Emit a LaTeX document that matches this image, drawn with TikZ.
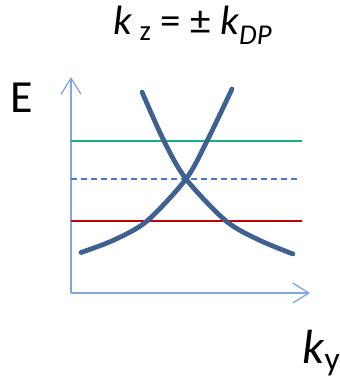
\documentclass[tikz,border=0pt]{standalone}
\usepackage{fontspec}
\setmainfont{Carlito}
\usetikzlibrary{arrows.meta}
\definecolor{axisblue}{HTML}{7FA7D8}
\definecolor{bandblue}{HTML}{3E618F}
\definecolor{levgreen}{HTML}{14B082}
\definecolor{levred}{HTML}{C00000}
\definecolor{dashblue}{HTML}{4A78C8}

\begin{document}
\begin{tikzpicture}[x=1pt, y=-1pt,
  axis/.style={draw=axisblue, line width=1.3pt,
               -{Straight Barb[length=16pt, width=20pt, line width=1.3pt]}},
  band/.style={draw=bandblue, line width=4.8pt, line cap=round},
  level/.style={line width=2.8pt},
  lbl/.style={inner sep=0pt, anchor=base west}
]
  \useasboundingbox (0,0) rectangle (339,379);

  % axes
  \coordinate (origin) at (71,293);
  \coordinate (ytip)   at (71,77);
  \coordinate (xtip)   at (310,293);
  \draw[axis] (origin) -- (ytip);
  \draw[axis] (origin) -- (xtip);

  % energy levels
  \coordinate (gleft)  at (71,141);  \coordinate (gright) at (302,141);
  \coordinate (dleft)  at (71,179);  \coordinate (dright) at (300,179);
  \coordinate (rleft)  at (71,221);  \coordinate (rright) at (302,221);
  \draw[level, levgreen] (gleft) -- (gright);
  \draw[dashblue, line width=1.2pt, dash pattern=on 6pt off 4pt] (dleft) -- (dright);
  \draw[level, levred] (rleft) -- (rright);

  % bands
  \draw[band] plot[smooth] coordinates
    {(81,252.5) (114,240) (147,221) (186,179) (207,141) (232,89)};
  \draw[band] plot[smooth] coordinates
    {(142,92) (164,141) (186,179) (226,221) (259,240) (293,254)};

  % labels
  \node[anchor=base, inner sep=0pt, font=\fontsize{41}{45}\selectfont] (title) at (193,35)
    {\textit{k}\,\textsubscript{z} = ± \textit{k}\textsubscript{\textit{DP}}};
  \node[lbl, font=\fontsize{46}{50}\selectfont] (elabel) at (10,113) {E};
  \node[lbl, font=\fontsize{48}{52}\selectfont] (kylabel) at (302,363)
    {\textit{k}\textsubscript{y}};
\end{tikzpicture}
\end{document}
